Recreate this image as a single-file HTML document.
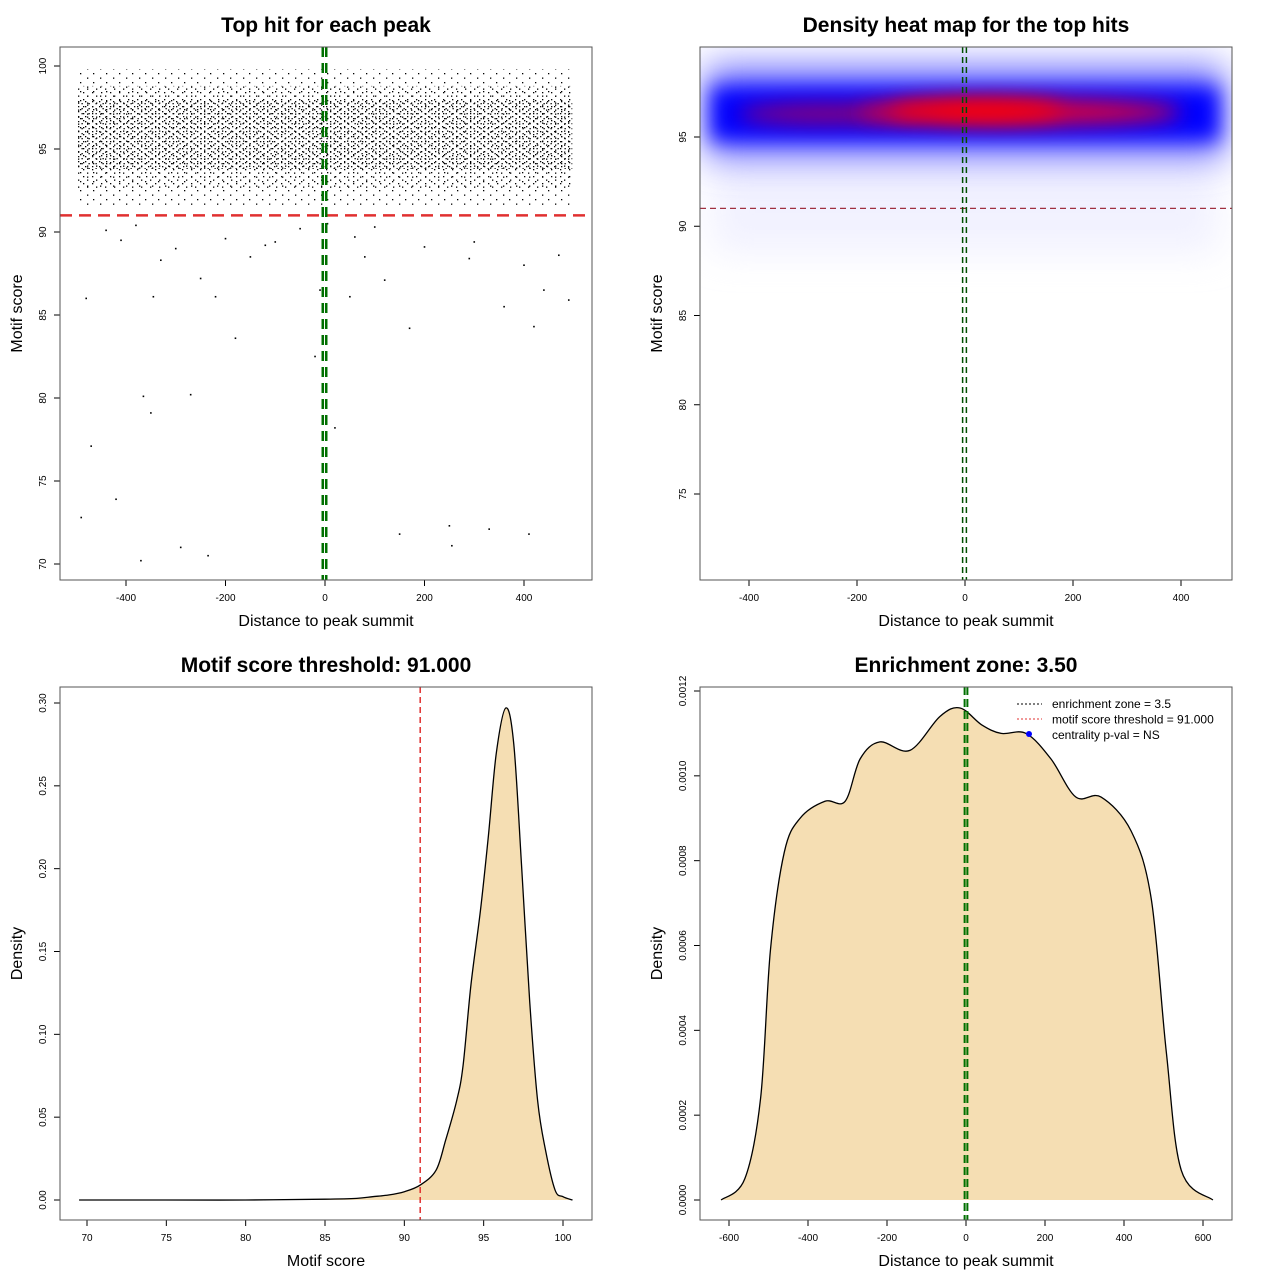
<!DOCTYPE html>
<html><head><meta charset="utf-8"><style>
body{margin:0;background:#fff;width:1280px;height:1280px;overflow:hidden}
text{font-family:"Liberation Sans",sans-serif}
</style></head><body>
<svg id="s" width="1280" height="1280" xmlns="http://www.w3.org/2000/svg">
<defs>
<pattern id="dotsA" width="7" height="5" patternUnits="userSpaceOnUse"><rect x="1" y="1" width="1.3" height="1.3" fill="#000"/><rect x="4.5" y="3" width="1.3" height="1.3" fill="#000"/></pattern>
<pattern id="dotsB" width="9" height="7" patternUnits="userSpaceOnUse"><rect x="2" y="1" width="1.3" height="1.3" fill="#000"/><rect x="6" y="4.5" width="1.3" height="1.3" fill="#000"/></pattern>
<pattern id="dotsC" width="13" height="9" patternUnits="userSpaceOnUse"><rect x="2" y="1" width="1.3" height="1.3" fill="#000"/><rect x="9" y="5.5" width="1.3" height="1.3" fill="#000"/></pattern>
<filter id="blur1" x="-20%" y="-100%" width="140%" height="300%"><feGaussianBlur stdDeviation="10"/></filter>
<filter id="blur2" x="-20%" y="-100%" width="140%" height="300%"><feGaussianBlur stdDeviation="18"/></filter>
<clipPath id="c2"><rect x="700" y="47" width="532" height="533"/></clipPath>
</defs>
</svg>
<script>
// ---- data ----
const outlierX=[-490,-470,-480,-420,-370,-365,-350,-290,-270,-235,-220,-180,-345,-330,-410,-300,-250,-150,-100,-50,50,80,120,150,170,250,255,290,330,360,400,410,420,440,470,490,-20,20,-10,5,-440,-380,-200,300,200,100,-120,60];
const outlierY=[72.8,77.1,86,73.9,70.2,80.1,79.1,71,80.2,70.5,86.1,83.6,86.1,88.3,89.5,89,87.2,88.5,89.4,90.2,86.1,88.5,87.1,71.8,84.2,72.3,71.1,88.4,72.1,85.5,88,71.8,84.3,86.5,88.6,85.9,82.5,78.2,86.5,90.5,90.1,90.4,89.6,89.4,89.1,90.3,89.2,89.7];
const densX1=[69.5,75,80,85,87,88,89,90,91,92,92.6,93.3,93.7,94.2,94.8,95.3,95.8,96.4,96.9,97.4,97.9,98.4,98.9,99.5,100,100.6];
const densY1=[0,0,0,0.0005,0.001,0.002,0.003,0.005,0.009,0.018,0.036,0.06,0.081,0.13,0.175,0.22,0.27,0.297,0.275,0.2,0.12,0.06,0.03,0.006,0.002,0];
const densX2=[-620,-560,-520,-495,-460,-420,-357,-306,-268,-218,-142,-66,-15,40,89,152,215,278,342,418,469,507,545,625];
const densY2=[0,0.00005,0.00024,0.00059,0.00082,0.0009,0.00094,0.00094,0.00104,0.00108,0.00106,0.00114,0.00116,0.00112,0.0011,0.0011,0.00104,0.00095,0.00095,0.00087,0.00071,0.00035,0.00007,0];
const ticks1X=[-400,-200,0,200,400], ticks1Y=[70,75,80,85,90,95,100];
const ticks2Y=[75,80,85,90,95];
const ticks3X=[70,75,80,85,90,95,100], ticks3Y=[0,0.05,0.10,0.15,0.20,0.25,0.30];
const ticks3YL=["0.00","0.05","0.10","0.15","0.20","0.25","0.30"];
const ticks4X=[-600,-400,-200,0,200,400,600], ticks4Y=[0,0.0002,0.0004,0.0006,0.0008,0.0010,0.0012];
const ticks4YL=["0.0000","0.0002","0.0004","0.0006","0.0008","0.0010","0.0012"];
const threshold=91, zone=3.5;
// ---- helpers ----
const S=document.getElementById('s'),NS='http://www.w3.org/2000/svg';
function el(t,a,p){const e=document.createElementNS(NS,t);for(const k in a)e.setAttribute(k,a[k]);(p||S).appendChild(e);return e;}
function lin(d0,d1,r0,r1){return v=>r0+(v-d0)/(d1-d0)*(r1-r0);}
function smooth(pts){let d='M'+pts[0][0]+','+pts[0][1];for(let i=0;i<pts.length-1;i++){const p0=pts[Math.max(0,i-1)],p1=pts[i],p2=pts[i+1],p3=pts[Math.min(pts.length-1,i+2)];d+=' C'+(p1[0]+(p2[0]-p0[0])/6)+','+(p1[1]+(p2[1]-p0[1])/6)+' '+(p2[0]-(p3[0]-p1[0])/6)+','+(p2[1]-(p3[1]-p1[1])/6)+' '+p2[0]+','+p2[1];}return d;}
function txt(x,y,s,sz,opt){const t=el('text',Object.assign({x:x,y:y,'font-size':sz,'text-anchor':'middle'},opt||{}));t.textContent=s;return t;}
function panel(name,box,title,xl,yl,xs,ys,xt,yt,ytl){
 const g=el('g',{});
 const [x0,y0,x1,y1]=box;
 const t=txt((x0+x1)/2,32+y0-47,title,21,{'font-weight':'bold'});g.appendChild(t);
 const a=txt((x0+x1)/2,y1+46,xl,16);g.appendChild(a);
 const b=txt(0,0,yl,16,{transform:`translate(${x0-38},${(y0+y1)/2}) rotate(-90)`});g.appendChild(b);
 xt.forEach(v=>{const x=xs(v);el('line',{x1:x,x2:x,y1:y1,y2:y1+6,stroke:'#000'},g);const l=txt(x,y1+21,String(v),10);g.appendChild(l);});
 yt.forEach((v,i)=>{const y=ys(v);el('line',{x1:x0-6,x2:x0,y1:y,y2:y,stroke:'#000'},g);const l=txt(0,0,ytl?ytl[i]:String(v),10,{transform:`translate(${x0-14},${y}) rotate(-90)`});g.appendChild(l);});
 return g;}
function frame(box){const r=el('rect',{x:box[0],y:box[1],width:box[2]-box[0],height:box[3]-box[1],fill:'none',stroke:'#555'});}
// ---- panel 1 ----
{const xs=lin(0,400,325,524),ys=lin(70,100,564,66);
 panel('scatter-panel',[60,47,592,580],'Top hit for each peak','Distance to peak summit','Motif score',xs,ys,ticks1X,ticks1Y);
 const b0=el('rect',{x:xs(-497),y:ys(99.8),width:xs(497)-xs(-497),height:ys(91.5)-ys(99.8),fill:'url(#dotsC)'});
 const b1=el('rect',{x:xs(-497),y:ys(98.8),width:xs(497)-xs(-497),height:ys(92.6)-ys(98.8),fill:'url(#dotsB)'});
 const b2=el('rect',{x:xs(-497),y:ys(97.9),width:xs(497)-xs(-497),height:ys(93.8)-ys(97.9),fill:'url(#dotsA)'});
 outlierX.forEach((v,i)=>{const p=el('rect',{x:xs(v)-0.8,y:ys(outlierY[i])-0.8,width:1.6,height:1.6,fill:'#000'});});
 const h=el('line',{x1:60,x2:592,y1:ys(threshold),y2:ys(threshold),stroke:'#e03030','stroke-width':2.5,'stroke-dasharray':'12,7'});
 [-zone,zone].forEach(z=>{const l=el('line',{x1:xs(z)-0.5,x2:xs(z)-0.5,y1:47,y2:580,stroke:'#007000','stroke-width':2.5,'stroke-dasharray':'10,6'});});
 frame([60,47,592,580]);}
// ---- panel 2 ----
{const xs=lin(0,400,965,1181),ys=lin(75,95,494,137);
 panel('heatmap-panel',[700,47,1232,580],'Density heat map for the top hits','Distance to peak summit','Motif score',xs,ys,ticks1X,ticks2Y);
 const g=el('g',{'clip-path':'url(#c2)'});
 el('rect',{x:xs(-470),y:ys(93.5),width:xs(470)-xs(-470),height:ys(88.5)-ys(93.5),fill:'#e4e4ff',opacity:0.5,filter:'url(#blur2)'},g);
 el('rect',{x:xs(-480),y:ys(99),width:xs(480)-xs(-480),height:ys(93.8)-ys(99),fill:'#7070ff',filter:'url(#blur2)'},g);
 el('rect',{x:xs(-470),y:ys(97.8),width:xs(470)-xs(-470),height:ys(94.8)-ys(97.8),fill:'#0000ff',filter:'url(#blur1)'},g);
 el('ellipse',{cx:xs(-250),cy:ys(96.3),rx:xs(170)-xs(0),ry:10,fill:'#900070',filter:'url(#blur1)'},g);
 el('ellipse',{cx:xs(100),cy:ys(96.4),rx:xs(300)-xs(0),ry:13,fill:'#e00030',filter:'url(#blur1)'},g);
 el('ellipse',{cx:xs(20),cy:ys(96.5),rx:xs(160)-xs(0),ry:10,fill:'#ff0000',filter:'url(#blur1)'},g);
 const h=el('line',{x1:700,x2:1232,y1:ys(threshold),y2:ys(threshold),stroke:'#a03040','stroke-width':1.3,'stroke-dasharray':'6,4'});
 [-zone,zone].forEach(z=>{const l=el('line',{x1:xs(z)-0.5,x2:xs(z)-0.5,y1:47,y2:580,stroke:'#005000','stroke-width':1.5,'stroke-dasharray':'6,4'});});
 frame([700,47,1232,580]);}
// ---- panel 3 ----
{const xs=lin(70,100,87,563),ys=lin(0,0.3,1200,703);
 panel('score-density-panel',[60,687,592,1220],'Motif score threshold: 91.000','Motif score','Density',xs,ys,ticks3X,ticks3Y,ticks3YL);
 const pts=densX1.map((v,i)=>[xs(v),ys(densY1[i])]);
 const d=smooth(pts);
 const a=el('path',{d:d+' Z',fill:'#f5deb3',stroke:'none'});
 const l=el('path',{d:d,fill:'none',stroke:'#000','stroke-width':1.3});
 const v=el('line',{x1:xs(threshold),x2:xs(threshold),y1:687,y2:1220,stroke:'#e03030','stroke-width':1.5,'stroke-dasharray':'6,4'});
 frame([60,687,592,1220]);}
// ---- panel 4 ----
{const xs=lin(-600,600,729,1203),ys=lin(0,0.0012,1200,691);
 panel('position-density-panel',[700,687,1232,1220],'Enrichment zone: 3.50','Distance to peak summit','Density',xs,ys,ticks4X,ticks4Y,ticks4YL);
 const pts=densX2.map((v,i)=>[xs(v),ys(densY2[i])]);
 const d=smooth(pts);
 const a=el('path',{d:d+' Z',fill:'#f5deb3',stroke:'none'});
 const l=el('path',{d:d,fill:'none',stroke:'#000','stroke-width':1.3});
 [-zone,zone].forEach(z=>{const v=el('line',{x1:xs(z),x2:xs(z),y1:687,y2:1220,stroke:'#007000','stroke-width':2,'stroke-dasharray':'8,4'});});
 const lg=el('g',{});
 el('line',{x1:1017,x2:1042,y1:704,y2:704,stroke:'#000','stroke-dasharray':'2,2'},lg);
 el('line',{x1:1017,x2:1042,y1:719,y2:719,stroke:'#e03030','stroke-dasharray':'2,2'},lg);
 el('circle',{cx:1029,cy:734,r:3,fill:'#0000ff'},lg);
 ['enrichment zone = 3.5','motif score threshold = 91.000','centrality p-val = NS'].forEach((s,i)=>{const t=txt(1052,708+i*15.5,s,12,{'text-anchor':'start'});lg.appendChild(t);});
 frame([700,687,1232,1220]);}
</script>
</body></html>
